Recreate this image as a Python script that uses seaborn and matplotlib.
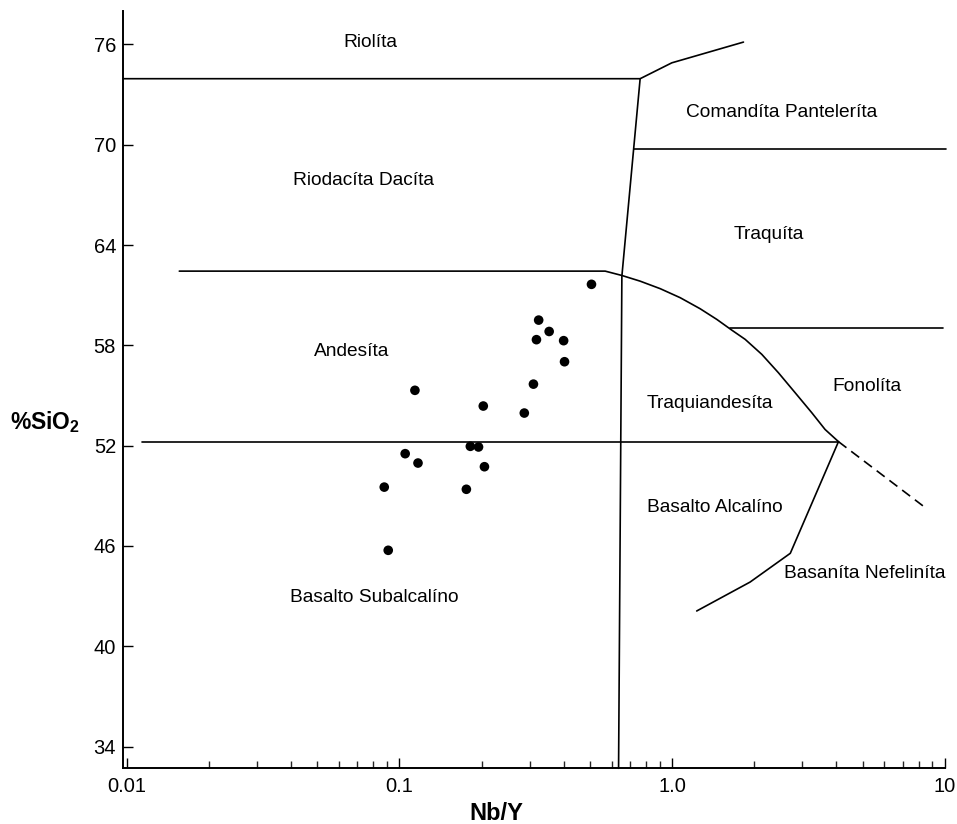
import matplotlib
matplotlib.use("Agg")
import matplotlib.pyplot as plt
import seaborn as sns
import pandas as pd

# ---------------- data ----------------
nb_y = [0.506, 0.324, 0.354, 0.318, 0.400, 0.403, 0.310, 0.114, 0.203,
        0.287, 0.182, 0.195, 0.105, 0.117, 0.205, 0.088, 0.176, 0.091]
sio2 = [61.65, 59.51, 58.83, 58.34, 58.28, 57.02, 55.68, 55.31, 54.37,
        53.95, 51.96, 51.92, 51.52, 50.96, 50.74, 49.52, 49.39, 45.74]

# field boundaries (Nb/Y, SiO2)
bnd_riolita_x = [0.0097, 0.763, 0.997, 1.825]
bnd_riolita_y = [73.95, 73.95, 74.9, 76.14]
bnd_alk_x = [0.763, 0.654, 0.636]
bnd_alk_y = [73.95, 62.14, 32.7]
bnd_comendite_x = [0.726, 10.05]
bnd_comendite_y = [69.72, 69.72]
bnd_andesite_x = [0.0156, 0.568, 0.654, 0.763, 0.904, 1.070, 1.266, 1.458,
                  1.654, 1.851, 2.131, 2.452, 2.822, 3.249, 3.634, 4.07]
bnd_andesite_y = [62.44, 62.44, 62.18, 61.84, 61.39, 60.85, 60.19, 59.55,
                  58.91, 58.36, 57.46, 56.36, 55.17, 53.97, 52.97, 52.24]
bnd_fonolita_x = [1.63, 9.83]
bnd_fonolita_y = [59.06, 59.06]
bnd_basalt_x = [0.0114, 4.07]
bnd_basalt_y = [52.24, 52.24]
bnd_basanite_x = [4.07, 2.71, 1.93, 1.23]
bnd_basanite_y = [52.24, 45.56, 43.84, 42.11]
bnd_dashed_x = [4.07, 8.63]
bnd_dashed_y = [52.24, 48.19]

field_names = ["Riolíta", "Comandíta Panteleríta", "Riodacíta Dacíta", "Traquíta",
               "Andesíta", "Traquiandesíta", "Fonolíta", "Basalto Alcalíno",
               "Basaníta Nefeliníta", "Basalto Subalcalíno"]
field_x = [0.0783, 2.52, 0.0740, 2.254, 0.0671, 1.378, 5.17, 1.437, 5.09, 0.081]
field_y = [76.1, 71.95, 67.87, 64.64, 57.66, 54.51, 55.56, 48.29, 44.36, 42.91]

y_ticks = [34, 40, 46, 52, 58, 64, 70, 76]
x_ticks = [0.01, 0.1, 1, 10]
x_tick_labels = ["0.01", "0.1", "1.0", "10"]

# ---------------- style ----------------
sns.set_style("ticks")
plt.rcParams["font.family"] = ["Liberation Sans", "DejaVu Sans"]
plt.rcParams["mathtext.fontset"] = "custom"
plt.rcParams["mathtext.rm"] = "Liberation Sans"
plt.rcParams["mathtext.bf"] = "Liberation Sans:bold"

fig = plt.figure(figsize=(9.57, 8.24), dpi=100)
ax = fig.add_axes([0.12853, 0.0676, 0.8589, 0.91905])

LW = 1.2
solid = [(bnd_riolita_x, bnd_riolita_y), (bnd_alk_x, bnd_alk_y),
         (bnd_comendite_x, bnd_comendite_y), (bnd_andesite_x, bnd_andesite_y),
         (bnd_fonolita_x, bnd_fonolita_y), (bnd_basalt_x, bnd_basalt_y),
         (bnd_basanite_x, bnd_basanite_y)]
for bx, by in solid:
    sns.lineplot(x=bx, y=by, sort=False, estimator=None, color="black",
                 linewidth=LW, ax=ax, clip_on=False)
sns.lineplot(x=bnd_dashed_x, y=bnd_dashed_y, sort=False, estimator=None,
             color="black", linewidth=LW, ax=ax, clip_on=False,
             linestyle=(0, (6, 3.6)))

df = pd.DataFrame({"Nb/Y": nb_y, "SiO2": sio2})
sns.scatterplot(data=df, x="Nb/Y", y="SiO2", color="black", s=48,
                edgecolor="none", ax=ax, zorder=5)

for name, fx, fy in zip(field_names, field_x, field_y):
    ax.text(fx, fy, name, ha="center", va="center", fontsize=13.8, color="black")

ax.set_xscale("log")
ax.set_xlim(0.0097, 10)
ax.set_ylim(32.7, 78)
ax.set_xticks(x_ticks)
ax.set_xticklabels(x_tick_labels)
ax.set_yticks(y_ticks)
ax.tick_params(axis="both", which="major", direction="in", labelsize=14.5,
               length=7, width=1.0, color="black", labelcolor="black")
ax.tick_params(axis="x", which="major", pad=6)
ax.tick_params(axis="y", which="major", pad=5)
ax.tick_params(axis="x", which="minor", direction="in", length=5, width=1.0)
ax.set_xlabel("")
ax.set_ylabel("")
for s in ["top", "right"]:
    ax.spines[s].set_visible(False)
for s in ["left", "bottom"]:
    ax.spines[s].set_linewidth(1.4)
    ax.spines[s].set_color("black")

fig.text(0.047, 0.488, r"$\mathbf{\%SiO_2}$", ha="center", va="center",
         fontsize=16.5, color="black")
fig.text(0.519, 0.0133, "Nb/Y", ha="center", va="center", fontsize=17,
         fontweight="bold", color="black")

fig.savefig("out.png", dpi=100, facecolor="white")
